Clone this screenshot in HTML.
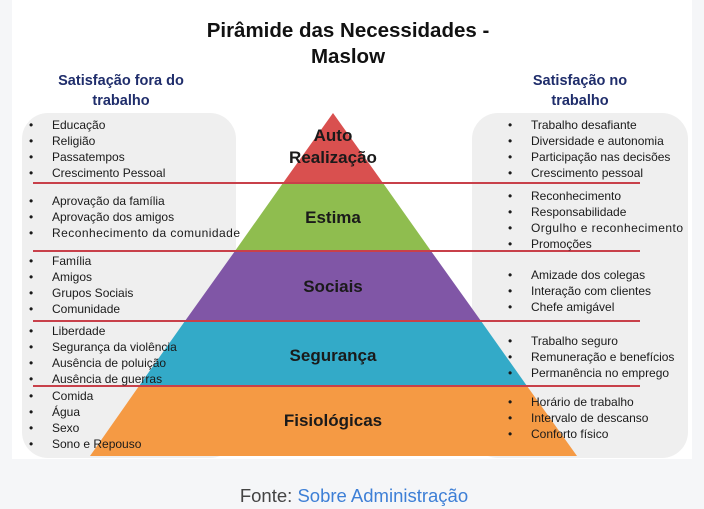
<!DOCTYPE html>
<html><head><meta charset="utf-8"><style>
html,body{margin:0;padding:0;background:#f5f6f8;}
svg{display:block;}
text{font-family:"Liberation Sans",sans-serif;}
</style></head><body>
<svg width="704" height="509" viewBox="0 0 704 509" xmlns="http://www.w3.org/2000/svg">
<rect x="0" y="0" width="704" height="509" fill="#f5f6f8"/>
<rect x="12" y="0" width="680" height="459" fill="#ffffff"/>
<rect x="22" y="113" width="214" height="345" rx="26" fill="#efefef"/>
<rect x="472" y="113" width="216" height="345" rx="26" fill="#efefef"/>
<g text-anchor="middle" font-weight="bold" fill="#111">
<text x="348" y="37" font-size="20.5">Pirâmide das Necessidades -</text>
<text x="348" y="63" font-size="20.5">Maslow</text>
</g>
<g text-anchor="middle" font-weight="bold" fill="#1f2d6b" font-size="14.5">
<text x="121" y="85">Satisfação fora do</text>
<text x="121" y="105">trabalho</text>
<text x="580" y="85">Satisfação no</text>
<text x="580" y="105">trabalho</text>
</g>
<polygon points="333,113 283,183 383,183" fill="#d9504f"/>
<polygon points="283,183 383,183 431,251 235,251" fill="#8fbd4f"/>
<polygon points="235,251 431,251 481,321 185,321" fill="#8056a6"/>
<polygon points="185,321 481,321 527,386 139,386" fill="#33aac8"/>
<polygon points="139,386 527,386 577,456 90,456" fill="#f59a44"/>
<g stroke="#c8404a" stroke-width="2">
<line x1="33" y1="183" x2="640" y2="183"/>
<line x1="33" y1="251" x2="640" y2="251"/>
<line x1="33" y1="321" x2="640" y2="321"/>
<line x1="33" y1="386" x2="640" y2="386"/>
</g>
<g text-anchor="middle" font-weight="bold" fill="#1a1a1a" font-size="17">
<text x="333" y="141">Auto</text>
<text x="333" y="163">Realização</text>
<text x="333" y="223">Estima</text>
<text x="333" y="292">Sociais</text>
<text x="333" y="361">Segurança</text>
<text x="333" y="426">Fisiológicas</text>
</g>
<g font-size="12" fill="#1a1a1a">
<text x="29" y="129">•</text><text x="52" y="129">Educação</text>
<text x="29" y="145">•</text><text x="52" y="145">Religião</text>
<text x="29" y="161">•</text><text x="52" y="161">Passatempos</text>
<text x="29" y="177">•</text><text x="52" y="177">Crescimento Pessoal</text>
<text x="29" y="205">•</text><text x="52" y="205">Aprovação da família</text>
<text x="29" y="221">•</text><text x="52" y="221">Aprovação dos amigos</text>
<text x="29" y="237">•</text><text x="52" y="237" textLength="188">Reconhecimento da comunidade</text>
<text x="29" y="265">•</text><text x="52" y="265">Família</text>
<text x="29" y="281">•</text><text x="52" y="281">Amigos</text>
<text x="29" y="297">•</text><text x="52" y="297">Grupos Sociais</text>
<text x="29" y="313">•</text><text x="52" y="313">Comunidade</text>
<text x="29" y="335">•</text><text x="52" y="335">Liberdade</text>
<text x="29" y="351">•</text><text x="52" y="351">Segurança da violência</text>
<text x="29" y="367">•</text><text x="52" y="367">Ausência de poluição</text>
<text x="29" y="383">•</text><text x="52" y="383">Ausência de guerras</text>
<text x="29" y="400">•</text><text x="52" y="400">Comida</text>
<text x="29" y="416">•</text><text x="52" y="416">Água</text>
<text x="29" y="432">•</text><text x="52" y="432">Sexo</text>
<text x="29" y="448">•</text><text x="52" y="448">Sono e Repouso</text>

<text x="508" y="129">•</text><text x="531" y="129">Trabalho desafiante</text>
<text x="508" y="145">•</text><text x="531" y="145">Diversidade e autonomia</text>
<text x="508" y="161">•</text><text x="531" y="161">Participação nas decisões</text>
<text x="508" y="177">•</text><text x="531" y="177">Crescimento pessoal</text>
<text x="508" y="200">•</text><text x="531" y="200">Reconhecimento</text>
<text x="508" y="216">•</text><text x="531" y="216">Responsabilidade</text>
<text x="508" y="232">•</text><text x="531" y="232" textLength="152">Orgulho e reconhecimento</text>
<text x="508" y="248">•</text><text x="531" y="248">Promoções</text>
<text x="508" y="279">•</text><text x="531" y="279">Amizade dos colegas</text>
<text x="508" y="295">•</text><text x="531" y="295">Interação com clientes</text>
<text x="508" y="311">•</text><text x="531" y="311">Chefe amigável</text>
<text x="508" y="345">•</text><text x="531" y="345">Trabalho seguro</text>
<text x="508" y="361">•</text><text x="531" y="361">Remuneração e benefícios</text>
<text x="508" y="377">•</text><text x="531" y="377">Permanência no emprego</text>
<text x="508" y="406">•</text><text x="531" y="406">Horário de trabalho</text>
<text x="508" y="422">•</text><text x="531" y="422">Intervalo de descanso</text>
<text x="508" y="438">•</text><text x="531" y="438">Conforto físico</text>
</g>
<text x="354" y="502" text-anchor="middle" font-size="18.5" fill="#444">Fonte: <tspan fill="#3d7fd6">Sobre Administração</tspan></text>
</svg>
</body></html>
